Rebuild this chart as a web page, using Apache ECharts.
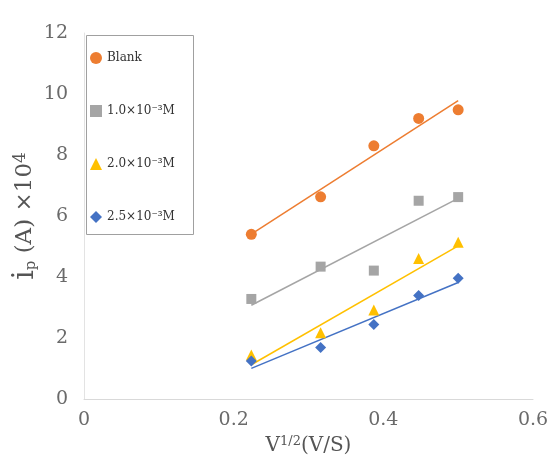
<!DOCTYPE html>
<html><head><meta charset="utf-8">
<script src="https://cdn.jsdelivr.net/npm/echarts@6/dist/echarts.min.js"></script>
<style>html,body{margin:0;padding:0;background:#fff}#c{width:557px;height:469px}</style>
</head><body><div id="c"></div>
<script>
var xValues = [0.2236, 0.3162, 0.3873, 0.4472, 0.5];
var blank = [5.40, 6.63, 8.30, 9.20, 9.48];
var c10 = [3.28, 4.34, 4.21, 6.50, 6.62];
var c20 = [1.44, 2.17, 2.92, 4.61, 5.14];
var c25 = [1.25, 1.69, 2.44, 3.39, 3.96];
var seriesNames = ['Blank', '1.0×10⁻³M', '2.0×10⁻³M', '2.5×10⁻³M'];
var xTicks = [0, 0.2, 0.4, 0.6];
var yTicks = [0, 2, 4, 6, 8, 10, 12];

var colors = ['#ED7D31', '#A5A5A5', '#FFC000', '#4472C4'];
var symbols = ['circle', 'rect', 'triangle', 'diamond'];
var sizes = [11, 10, 11, 11];
var allY = [blank, c10, c20, c25];

function pairs(ys){ return xValues.map(function(x,i){return [x, ys[i]];}); }
function fit(ys){
  var n = xValues.length, mx=0, my=0;
  for (var i=0;i<n;i++){mx+=xValues[i];my+=ys[i];}
  mx/=n; my/=n;
  var sxy=0,sxx=0;
  for (var i=0;i<n;i++){sxy+=(xValues[i]-mx)*(ys[i]-my);sxx+=(xValues[i]-mx)*(xValues[i]-mx);}
  var b=sxy/sxx, a=my-b*mx;
  var x0=xValues[0], x1=xValues[n-1];
  return [[x0,a+b*x0],[x1,a+b*x1]];
}

var series = [];
allY.forEach(function(ys,k){
  series.push({type:'line', data:fit(ys), showSymbol:false, silent:true, z:1,
    lineStyle:{color:colors[k], width:1.5}, itemStyle:{color:colors[k]}});
});
allY.forEach(function(ys,k){
  series.push({type:'scatter', name:seriesNames[k], data:pairs(ys), symbol:symbols[k],
    symbolSize:sizes[k], z:3, itemStyle:{color:colors[k], opacity:1}});
});

var font = 'DejaVu Serif';
var chart = echarts.init(document.getElementById('c'));
chart.setOption({
  animation:false,
  grid:{left:84, right:24, top:33, bottom:70, containLabel:false, outerBoundsMode:'none'},
  graphic:[{type:'rect', left:84, top:33, z:10, silent:true,
    shape:{width:107, height:199}, style:{fill:'none', stroke:'#a0a0a0', lineWidth:1}}],
  legend:{orient:'vertical', left:84, top:33, padding:[19,6,12,6], itemGap:41,
    itemWidth:12, itemHeight:12, data:seriesNames,
    textStyle:{fontFamily:font, fontSize:12, color:'#333'}},
  xAxis:{type:'value', min:xTicks[0], max:xTicks[xTicks.length-1], interval:0.2,
    axisLine:{show:true, lineStyle:{color:'#d9d9d9'}}, axisTick:{show:false}, splitLine:{show:false},
    axisLabel:{fontFamily:font, fontSize:19, color:'#6a6a6a', margin:12},
    name:'V{sup|1/2}(V/S)', nameLocation:'middle', nameGap:36, nameMoveOverlap:false,
    nameTextStyle:{fontFamily:font, fontSize:20, color:'#555',
      rich:{sup:{fontFamily:font, fontSize:13, color:'#555', verticalAlign:'top', padding:[0,0,8,0]}}}},
  yAxis:{type:'value', min:yTicks[0], max:yTicks[yTicks.length-1], interval:2,
    axisLine:{show:true, lineStyle:{color:'#e3e3e3'}}, axisTick:{show:false}, splitLine:{show:false},
    axisLabel:{fontFamily:font, fontSize:19, color:'#6a6a6a', margin:16},
    name:'{i|i}{sub|p}{n| (A) ×10}{sup|4}', nameLocation:'middle', nameGap:44, nameRotate:90,
    nameMoveOverlap:false,
    nameTextStyle:{fontFamily:font, fontSize:22, color:'#555',
      rich:{i:{fontFamily:font, fontSize:30, color:'#555'},
            sub:{fontFamily:font, fontSize:15, color:'#555', padding:[12,0,0,0]},
            n:{fontFamily:font, fontSize:23, color:'#555'},
            sup:{fontFamily:font, fontSize:17, color:'#555', padding:[0,0,8,0]}}}},
  series:series
});
</script></body></html>
